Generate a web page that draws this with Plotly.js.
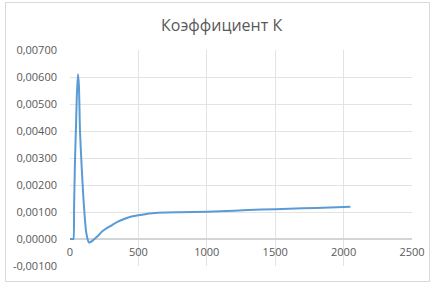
<!DOCTYPE html>
<html>
<head>
<meta charset="utf-8">
<script src="https://cdn.plot.ly/plotly-3.0.1.min.js"></script>
<style>
  html, body { margin: 0; padding: 0; background: #fff; }
  #wrap { position: relative; width: 432px; height: 285px; }
  #chart { width: 432px; height: 285px; }
  #frame { position: absolute; left: 5px; top: 2px; width: 423px; height: 278px; border: 1px solid #d9d9d9; pointer-events: none; }
</style>
</head>
<body>
<div id="wrap"><div id="chart"></div><div id="frame"></div></div>
<script>
const titleText = "Коэффициент К";
const xValues = [0, 10, 20, 25, 30, 36, 44, 50, 58, 65, 73, 85, 97, 108, 117, 128, 138, 150, 165, 185, 205, 234, 260, 300, 350, 400, 450, 500, 550, 600, 700, 800, 1000, 1200, 1400, 1600, 1800, 2050];
const kValues = [0, 0, 0, 0, 0.0012, 0.0028, 0.0042, 0.0053, 0.0061, 0.0057, 0.0040, 0.0027, 0.0016, 0.0008, 0.0003, 0.0000, -0.000125, -0.00011, -0.00006, 0.00003, 0.00012, 0.00028, 0.00037, 0.00049, 0.00064, 0.00075, 0.00083, 0.00088, 0.00092, 0.00095, 0.00098, 0.00099, 0.00101, 0.00105, 0.00109, 0.00112, 0.00115, 0.00119];
const yTickVals = [-0.001, 0, 0.001, 0.002, 0.003, 0.004, 0.005, 0.006, 0.007];
const yTickText = ["-0,00100", "0,00000", "0,00100", "0,00200", "0,00300", "0,00400", "0,00500", "0,00600", "0,00700"];
const xTickVals = [0, 500, 1000, 1500, 2000, 2500];
const xTickText = ["0", "500", "1000", "1500", "2000", "2500"];

const trace = {
  x: xValues, y: kValues, type: 'scatter', mode: 'lines',
  line: { color: '#5B9BD5', width: 2, shape: 'spline', smoothing: 0.6 },
  hoverinfo: 'skip'
};
const fontFam = 'Open Sans, Noto Sans, sans-serif';
const layout = {
  width: 432, height: 285,
  margin: { l: 70, r: 20, t: 50, b: 19, pad: 0 },
  paper_bgcolor: '#fff', plot_bgcolor: '#fff',
  showlegend: false,
  title: { text: titleText, x: 0.513, xanchor: 'center', y: 0.91, yanchor: 'middle', font: { family: fontFam, size: 16, color: '#595959' } },
  xaxis: {
    range: [0, 2500], tickvals: xTickVals, ticktext: xTickText,
    showgrid: true, gridcolor: '#e3e3e3', gridwidth: 1,
    zeroline: false, showline: false, ticks: '',
    anchor: 'free', position: 0.125, automargin: false,
    ticklabelstandoff: 5,
    tickfont: { family: fontFam, size: 11, color: '#595959' }
  },
  yaxis: {
    range: [-0.001, 0.007], tickvals: yTickVals, ticktext: yTickText,
    showgrid: true, gridcolor: '#e3e3e3', gridwidth: 1,
    zeroline: true, zerolinecolor: '#d4d4d4', zerolinewidth: 1.2,
    showline: false, ticks: '', automargin: false,
    ticklabelstandoff: 12,
    tickfont: { family: fontFam, size: 11, color: '#595959' }
  }
};
Plotly.newPlot('chart', [trace], layout, { staticPlot: true, displayModeBar: false });
</script>
</body>
</html>
